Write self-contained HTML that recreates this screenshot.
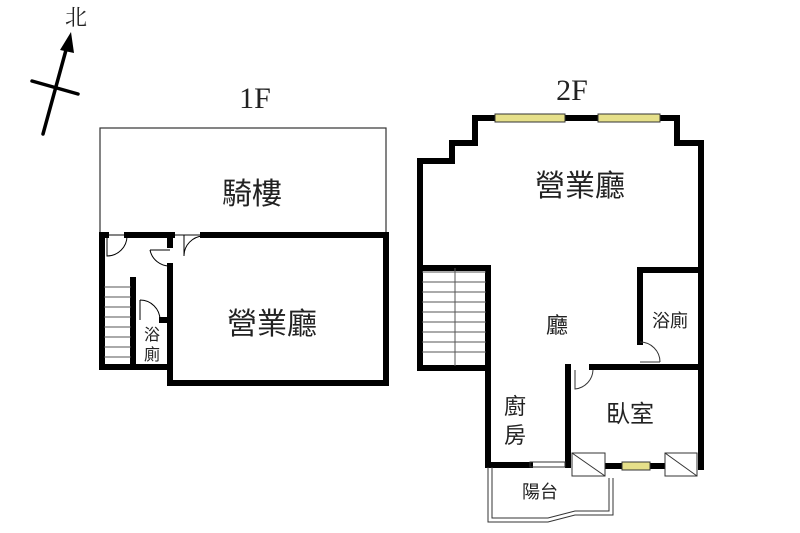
<!DOCTYPE html><html><head><meta charset="utf-8"><style>body{margin:0;background:#fff}svg{display:block}text{font-family:"Liberation Sans","Noto Sans CJK TC",sans-serif;fill:#222}.s{font-family:"Liberation Serif","Noto Serif CJK SC",serif}</style></head><body>
<svg width="800" height="533" viewBox="0 0 800 533">
<g stroke="#000" stroke-width="3.5" stroke-linecap="round"><line x1="43" y1="134" x2="66" y2="50"/><line x1="32" y1="81" x2="78" y2="94"/></g>
<polygon points="71,32 60,50 74,53" fill="#000"/>
<text class="s" x="76" y="25" font-size="22" text-anchor="middle">北</text>
<text class="s" x="255" y="108" font-size="30" text-anchor="middle">1F</text>
<text class="s" x="572" y="100" font-size="30" text-anchor="middle">2F</text>
<rect x="100" y="128" width="286" height="107" fill="none" stroke="#333" stroke-width="1.2"/>
<g stroke="#000" stroke-width="6" fill="none" stroke-linecap="square">
<line x1="102" y1="235" x2="106" y2="235"/><line x1="127" y1="235" x2="172" y2="235"/><line x1="203" y1="235" x2="386" y2="235"/>
<line x1="102" y1="235" x2="102" y2="367"/><line x1="102" y1="367" x2="170" y2="367"/>
<line x1="386" y1="235" x2="386" y2="383"/><line x1="170" y1="383" x2="386" y2="383"/>
<line x1="170" y1="266" x2="170" y2="383"/><line x1="170" y1="235" x2="170" y2="245"/>
<line x1="133" y1="280" x2="133" y2="367"/><line x1="162" y1="320" x2="170" y2="320"/>
</g>
<g stroke="#000" stroke-width="1" fill="none">
<path d="M107 235 V256 A20 20 0 0 0 127 236"/><path d="M184 235 V256 A20 20 0 0 1 203 236"/>
<path d="M150 250 A20 20 0 0 0 170 266 M150 250 H170"/><path d="M140 300 V320 M140 300 A20 20 0 0 1 160 320"/>
<g stroke="#555"><line x1="104" y1="287" x2="131" y2="287"/><line x1="104" y1="297" x2="131" y2="297"/><line x1="104" y1="307" x2="131" y2="307"/><line x1="104" y1="317" x2="131" y2="317"/><line x1="104" y1="327" x2="131" y2="327"/><line x1="104" y1="337" x2="131" y2="337"/><line x1="104" y1="347" x2="131" y2="347"/><line x1="104" y1="357" x2="131" y2="357"/></g>
</g>
<text x="252" y="204" font-size="30" text-anchor="middle">騎樓</text>
<text x="272" y="334" font-size="30" text-anchor="middle">營業廳</text>
<text x="152" y="340" font-size="16" text-anchor="middle">浴</text>
<text x="152" y="360" font-size="16" text-anchor="middle">廁</text>
<g stroke="#000" stroke-width="6" fill="none" stroke-linecap="square">
<polyline points="701,300 701,143 677,143 677,118 475,118 475,143 452,143 452,161 420,161 420,368 488,368"/>
<line x1="701" y1="300" x2="701" y2="467"/>
<line x1="420" y1="268" x2="488" y2="268"/><line x1="640" y1="270" x2="700" y2="270"/>
<line x1="488" y1="268" x2="488" y2="465"/><line x1="488" y1="465" x2="530" y2="465"/>
<line x1="640" y1="270" x2="640" y2="342"/>
<line x1="568" y1="367" x2="568" y2="465"/><line x1="592" y1="367" x2="700" y2="367"/>
<line x1="605" y1="466" x2="665" y2="466"/>
</g>
<g fill="#e6e08a" stroke="#333" stroke-width="1"><rect x="495" y="114" width="70" height="8"/><rect x="598" y="114" width="62" height="8"/><rect x="622" y="462" width="28" height="8"/></g>
<g stroke="#333" stroke-width="1" fill="#fff"><rect x="572" y="453" width="33" height="23"/><rect x="665" y="453" width="32" height="23"/></g>
<g stroke="#333" stroke-width="1" fill="none">
<line x1="572" y1="453" x2="605" y2="476"/><line x1="665" y1="453" x2="697" y2="476"/>
<path d="M640 342 A20 20 0 0 1 660 362 M640 362 H660"/><path d="M575 370 V389 A20 20 0 0 0 593 370"/>
<rect x="530" y="462" width="35" height="5"/>
<polyline points="488,467 488,522 548,522 575,515 613,515 613,478"/><polyline points="492,467 492,518 548,518 575,511 609,511 609,478"/>
<g stroke="#555"><line x1="422" y1="272" x2="486" y2="272"/><line x1="422" y1="282" x2="486" y2="282"/><line x1="422" y1="292" x2="486" y2="292"/><line x1="422" y1="302" x2="486" y2="302"/><line x1="422" y1="312" x2="486" y2="312"/><line x1="422" y1="322" x2="486" y2="322"/><line x1="422" y1="332" x2="486" y2="332"/><line x1="422" y1="342" x2="486" y2="342"/><line x1="422" y1="352" x2="486" y2="352"/><line x1="455" y1="268" x2="455" y2="366"/></g>
</g>
<text x="580" y="196" font-size="30" text-anchor="middle">營業廳</text>
<text x="557" y="333" font-size="22" text-anchor="middle">廳</text>
<text x="670" y="327" font-size="18" text-anchor="middle">浴廁</text>
<text x="630" y="422" font-size="24" text-anchor="middle">臥室</text>
<text x="515" y="414" font-size="22" text-anchor="middle">廚</text>
<text x="515" y="443" font-size="22" text-anchor="middle">房</text>
<text x="540" y="498" font-size="18" text-anchor="middle">陽台</text>
</svg></body></html>
